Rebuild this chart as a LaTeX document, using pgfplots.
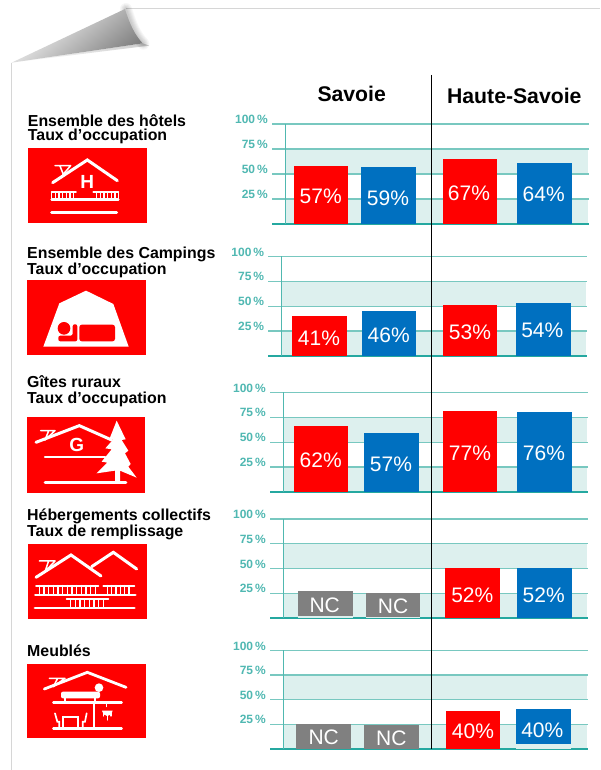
\documentclass[border=0pt]{standalone}
\usepackage{fontspec}
\setmainfont{Liberation Sans}
\usepackage{pgfplots}
\pgfplotsset{compat=1.18}
\definecolor{cred}{HTML}{FF0000}
\definecolor{cblue}{HTML}{0070C0}
\definecolor{cgrey}{HTML}{808080}
\definecolor{band}{HTML}{DDF0EE}
\definecolor{gridc}{HTML}{78C8C0}
\definecolor{vertc}{HTML}{50B8B0}
\definecolor{basec}{HTML}{25A8A0}
\definecolor{tickc}{HTML}{50B8B2}
\tikzset{
  val/.style={text=white,inner sep=0pt,font=\fontsize{21}{21}\selectfont},
  head/.style={inner sep=0pt,font=\fontsize{21.2}{21.2}\selectfont\bfseries},
  lab/.style={anchor=base west,inner sep=0pt,font=\fontsize{15.9}{15.9}\selectfont\bfseries},
  w/.style={draw=white,line width=#1pt,line cap=round},
  w/.default=1.3
}
\pgfplotsset{
  panel/.style={
    scale only axis, anchor=south west, clip=false,
    ymin=0, ymax=100,
    ytick={25,50,75,100}, yticklabels={25\,\%,50\,\%,75\,\%,100\,\%},
    xtick=\empty, major tick length=0pt,
    ymajorgrids, grid style={gridc,line width=1.4pt},
    axis x line=bottom, axis y line=left,
    x axis line style={-,basec,line width=1.5pt},
    y axis line style={-,draw=none},
    yticklabel style={anchor=east,inner sep=0pt,xshift=-4pt,yshift=4.5pt,text=tickc,
      font=\fontsize{12}{12}\selectfont\bfseries},
  },
  rb/.style={ybar,bar shift=0pt,fill=cred,draw=none,bar width=#1pt},
  bb/.style={ybar,bar shift=0pt,fill=cblue,draw=none,bar width=#1pt},
  gb/.style={ybar,bar shift=0pt,fill=cgrey,draw=none,bar width=#1pt},
  sb/.style={ybar,bar shift=0pt,fill=band,draw=none,bar width=#1pt},
}
\begin{document}
\begin{tikzpicture}
\path[use as bounding box,fill=white] (0pt,0pt) rectangle (600pt,770pt);

% ---------- paper edge and folded corner (3x zoom coordinates)
\begin{scope}[shift={(0pt,770pt)},x=0.33333pt,y=-0.33333pt]
  \draw[black!16,line width=1.4pt] (35,188) -- (35,2310);
  \draw[black!16,line width=1.4pt] (378,26) -- (1800,26);
  \shade[top color=black!20,bottom color=white] (35,188) -- (428,130) -- (448,137) -- cycle;
  \foreach \lw in {2,4,6,8,10,12} {
    \draw[black,opacity=0.035,line width=\lw pt,line cap=round]
      (378,27) .. controls (393,75) and (405,105) .. (430,131);
  }
  \shade[left color=white,right color=black!50,shading angle=40] (35,188) -- (375,27)
     .. controls (390,75) and (405,105) .. (428,130) -- cycle;
\end{scope}

% ---------- icon 1
\begin{scope}[shift={(0pt,770pt)},x=0.33333pt,y=-0.33333pt]
  \fill[cred] (83,443) rectangle (441,669);
  \draw[w=3] (158,548) -- (262,480) -- (352,542);
  \draw[w=1.5] (165,497) -- (212,497) (180,498) -- (192,528) (212,497) -- (188,525);
  \node[text=white,inner sep=0pt,font=\fontsize{19}{19}\selectfont\bfseries] at (262,545) {H};
  \draw[w=1.8] (155,577) -- (228,577) (280,577) -- (355,577);
  \draw[w=2.6] (155,598) -- (355,598);
  \foreach \x in {155,166,177,188,199,210,221,290,301,312,323,334,345,355} \draw[w=1.5] (\x,577) -- (\x,598);
  \draw[w=3] (155,638) -- (350,638);
\end{scope}

% ---------- icons 2 and 3
\begin{scope}[shift={(0pt,530pt)},x=0.33333pt,y=-0.33333pt]
  \fill[cred] (80,120) rectangle (438,345);
  \fill[white] (130,320) -- (178,190) -- (258,152) -- (340,192) -- (386,320) -- cycle;
  \fill[cred] (192,265) circle (19);
  \fill[cred,rounded corners=2pt] (175,287) -- (218,287) -- (218,253) -- (232,253) -- (232,304) -- (175,304) -- cycle;
  \fill[cred,rounded corners=2.5pt] (238,254) rectangle (345,304);

  \fill[cred] (80,531) rectangle (434,759);
  \draw[w=3] (108,607) -- (238,557) -- (335,600);
  \draw[w=1.5] (122,572) -- (165,572) (145,575) -- (135,600) (165,572) -- (135,600);
  \node[text=white,inner sep=0pt,font=\fontsize{19}{19}\selectfont\bfseries] at (230,615) {G};
  \draw[w=2.2] (135,651) -- (315,651);
  \draw[w=2.6] (135,728) -- (378,728);
  \fill[white] (350,542) -- (328,598) -- (340,598) -- (316,625) -- (335,628) -- (305,665) -- (322,668)
    -- (290,700) -- (345,692) -- (345,728) -- (360,728) -- (360,692) -- (410,713) -- (385,680)
    -- (392,672) -- (375,640) -- (385,632) -- (365,600) -- (377,598) -- cycle;
\end{scope}

% ---------- icons 4 and 5
\begin{scope}[shift={(0pt,270pt)},x=0.33333pt,y=-0.33333pt]
  \fill[cred] (83,131) rectangle (441,356);
  \draw[w=3] (108,232) -- (213,165) -- (303,228);
  \draw[w=3] (275,200) -- (340,157) -- (410,207);
  \draw[w=1.5] (118,183) -- (165,183) (145,185) -- (135,215) (165,183) -- (135,215);
  \draw[w=1.8] (108,257) -- (295,257) (310,257) -- (403,257);
  \draw[w=2.7] (106,285) -- (406,285);
  \foreach \x in {118,132,146,160,174,188,202,216,230,244,258,272,286,322,335,348,361,374,387} \draw[w=1.6] (\x,257) -- (\x,285);
  \draw[w=1.8] (200,298) -- (325,298);
  \foreach \x in {212,226,240,254,268,282,296,310} \draw[w=1.6] (\x,298) -- (\x,324);
  \draw[w=2.8] (105,324) -- (403,324);

  \fill[cred] (80,492) rectangle (438,715);
  \draw[w=2.8] (133,567) -- (262,517) -- (378,562);
  \draw[w=1.5] (148,535) -- (195,535) (172,537) -- (160,560) (195,535) -- (160,560);
  \fill[white,rounded corners=2pt] (183,575) rectangle (300,595);
  \fill[white] (297,563) circle (13);
  \draw[w=1.7] (195,595) -- (195,606) (285,595) -- (285,606);
  \draw[w=2.4] (160,608) -- (365,608);
  \draw[w=1.7] (283,608) -- (283,685);
  \draw[w=1.1] (320,608) -- (320,620) (310,640) -- (310,648) (322,645) -- (322,660) (333,640) -- (333,648);
  \fill[white] (306,632) arc (180:0:16) -- cycle;
  \draw[w=2.4] (160,686) -- (365,686);
  \draw[w=1.8] (190,686) -- (190,650) -- (233,650) -- (233,686);
  \draw[w=1.7] (165,640) -- (172,665) -- (178,665) -- (178,686);
  \draw[w=1.7] (260,640) -- (255,665) -- (248,665) -- (248,686);
\end{scope}

% ---------- panel 1
\begin{axis}[panel, at={(272pt,546pt)}, width=317pt, height=100pt, xmin=272, xmax=589]
  \fill[band] (axis cs:285.7,0.7) rectangle (axis cs:588,24.4);
  \fill[band] (axis cs:285.7,50.6) rectangle (axis cs:588,74.4);
  \draw[vertc,line width=1.3pt] (axis cs:285.7,0) -- (axis cs:285.7,100);
  \addplot[rb=54] coordinates {(321,58)};
  \addplot[bb=55] coordinates {(388.5,57)};
  \addplot[rb=54] coordinates {(470,65)};
  \addplot[bb=55] coordinates {(544.5,61)};
  \node[val] at (axis cs:320.7,28) {57\%};
  \node[val] at (axis cs:388,26) {59\%};
  \node[val] at (axis cs:469,31) {67\%};
  \node[val] at (axis cs:543.7,30) {64\%};
\end{axis}

% ---------- panel 2
\begin{axis}[panel, at={(268.3pt,414pt)}, width=318.4pt, height=99.5pt, xmin=268.3, xmax=586.7]
  \fill[band] (axis cs:281.7,0.7) rectangle (axis cs:585.5,24.4);
  \fill[band] (axis cs:281.7,50.6) rectangle (axis cs:585.5,74.4);
  \draw[vertc,line width=1.3pt] (axis cs:281.7,0) -- (axis cs:281.7,100);
  \addplot[rb=55] coordinates {(319.5,40)};
  \addplot[bb=54] coordinates {(389,45)};
  \addplot[rb=54] coordinates {(470,51)};
  \addplot[bb=55] coordinates {(543.5,53)};
  \node[val] at (axis cs:319,18) {41\%};
  \node[val] at (axis cs:388.7,21) {46\%};
  \node[val] at (axis cs:470,24) {53\%};
  \node[val] at (axis cs:542.3,26) {54\%};
\end{axis}

% ---------- panel 3
\begin{axis}[panel, at={(270pt,278pt)}, width=318.3pt, height=99.5pt, xmin=270, xmax=588.3]
  \fill[band] (axis cs:283.3,0.7) rectangle (axis cs:587,24.4);
  \fill[band] (axis cs:283.3,50.6) rectangle (axis cs:587,74.4);
  \draw[vertc,line width=1.3pt] (axis cs:283.3,0) -- (axis cs:283.3,100);
  \addplot[rb=54] coordinates {(321,66)};
  \addplot[bb=55] coordinates {(391.5,59)};
  \addplot[rb=54] coordinates {(470,81)};
  \addplot[bb=55] coordinates {(544.5,80)};
  \node[val] at (axis cs:320.7,32) {62\%};
  \node[val] at (axis cs:391,28) {57\%};
  \node[val] at (axis cs:470,39) {77\%};
  \node[val] at (axis cs:544,39) {76\%};
\end{axis}

% ---------- panel 4
\begin{axis}[panel, at={(270pt,152pt)}, width=318.3pt, height=99pt, xmin=270, xmax=588.3]
  \fill[band] (axis cs:283.3,0.7) rectangle (axis cs:587,24.4);
  \fill[band] (axis cs:283.3,50.6) rectangle (axis cs:587,74.4);
  \draw[vertc,line width=1.3pt] (axis cs:283.3,0) -- (axis cs:283.3,100);
  \addplot[gb=55] coordinates {(325.5,27)};
  \addplot[sb=55] coordinates {(325.5,2)};
  \addplot[gb=54] coordinates {(393,25)};
  \addplot[sb=54] coordinates {(393,1)};
  \addplot[rb=55] coordinates {(472.5,50)};
  \addplot[bb=55] coordinates {(544.5,50)};
  \node[val] at (axis cs:324.7,13) {NC};
  \node[val] at (axis cs:393,12) {NC};
  \node[val] at (axis cs:472.3,23) {52\%};
  \node[val] at (axis cs:543.7,23) {52\%};
\end{axis}

% ---------- panel 5
\begin{axis}[panel, at={(270pt,21pt)}, width=318.3pt, height=98.6pt, xmin=270, xmax=588.3]
  \fill[band] (axis cs:283.3,0.7) rectangle (axis cs:587,24.4);
  \fill[band] (axis cs:283.3,50.6) rectangle (axis cs:587,74.4);
  \draw[vertc,line width=1.3pt] (axis cs:283.3,0) -- (axis cs:283.3,100);
  \addplot[gb=55] coordinates {(323.5,25)};
  \addplot[gb=55] coordinates {(391.5,24)};
  \addplot[rb=54] coordinates {(473,39)};
  \addplot[bb=55] coordinates {(543.5,41)};
  \addplot[sb=55] coordinates {(543.5,5)};
  \node[val] at (axis cs:323.7,12) {NC};
  \node[val] at (axis cs:391.3,11) {NC};
  \node[val] at (axis cs:473,18) {40\%};
  \node[val] at (axis cs:542.3,19) {40\%};
\end{axis}

% ---------- text and divider, y measured from the top
\begin{scope}[shift={(0pt,770pt)},x=1pt,y=-1pt]
  \draw[black,line width=1.2pt] (431.3,75) -- (431.3,749);
  \node[head] at (351.7,94) {Savoie};
  \node[head] at (514.3,96) {Haute-Savoie};
  \node[lab] at (27.7,126.6) {Ensemble des hôtels};
  \node[lab] at (27.7,140.6) {Taux d’occupation};
  \node[lab] at (27,258.6) {Ensemble des Campings};
  \node[lab] at (27,274.6) {Taux d’occupation};
  \node[lab] at (27,387.6) {Gîtes ruraux};
  \node[lab] at (27,403.6) {Taux d’occupation};
  \node[lab] at (27,520.6) {Hébergements collectifs};
  \node[lab] at (27,536.6) {Taux de remplissage};
  \node[lab] at (27,656.6) {Meublés};
\end{scope}
\end{tikzpicture}
\end{document}
